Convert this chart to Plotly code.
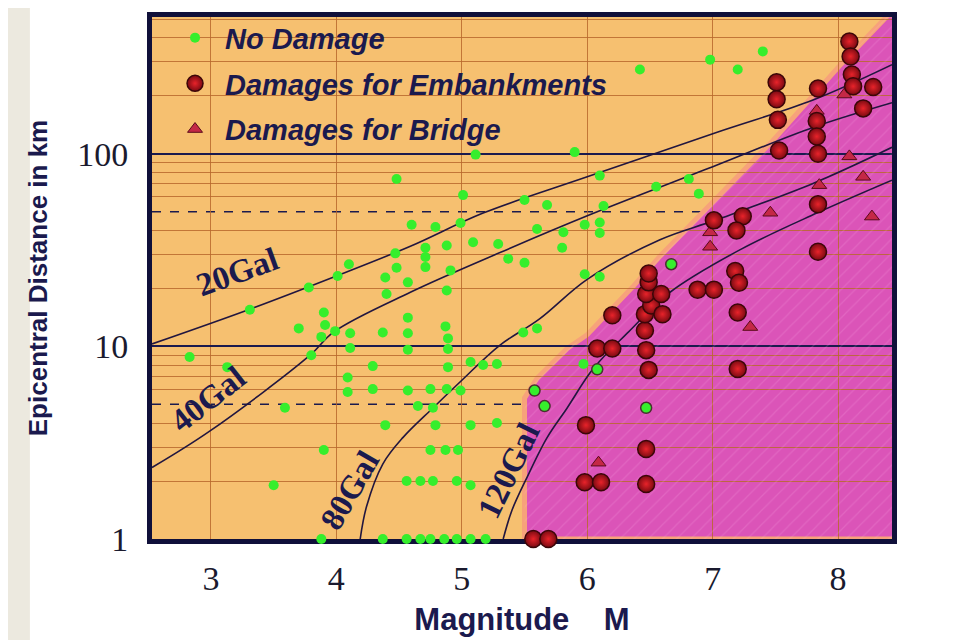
import plotly.graph_objects as go

# ---- values: magnitude M and epicentral distance (km) ----
no_damage_m = [2.83, 3.13, 3.31, 3.50, 3.59, 3.70, 3.78, 3.80, 3.88, 3.90, 3.91, 3.90,
               3.99, 4.01, 4.10, 4.11, 4.11, 4.09, 4.09, 4.29, 4.29, 4.37, 4.39, 4.40,
               4.39, 4.47, 4.48, 4.48, 4.56, 4.57, 4.57, 4.57, 4.57, 4.57, 4.60, 4.65,
               4.67, 4.71, 4.71, 4.71, 4.75, 4.75, 4.77, 4.77, 4.79, 4.79, 4.87, 4.87,
               4.88, 4.88, 4.88, 4.89, 4.89, 4.89, 4.91, 4.96, 4.97, 4.99, 4.99, 5.01,
               5.07, 5.07, 5.07, 5.09, 5.11, 5.17, 5.28, 5.28, 5.29, 5.37, 5.49, 5.50,
               5.50, 5.60, 5.60, 5.68, 5.80, 5.81, 5.90, 5.97, 5.98, 5.98, 6.10, 6.10,
               6.10, 6.10, 6.13, 6.42, 6.55, 6.81, 6.89, 6.98, 7.20, 7.40,
               3.88, 4.37, 4.56, 4.67, 4.75, 4.86, 4.96, 5.07, 5.19]
no_damage_d = [8.8, 7.8, 15.5, 1.9, 4.8, 12.4, 20.2, 9.0, 11.2, 15.0, 12.9, 2.9,
               12.0, 23.2, 26.7, 11.7, 9.8, 6.9, 5.8, 7.9, 6.0, 11.8, 22.8, 18.7,
               3.9, 30.4, 25.6, 74, 2.0, 21.5, 14.1, 11.7, 9.6, 5.9, 42.8, 4.9,
               2.0, 32.5, 29.1, 25.8, 2.9, 6.0, 4.8, 2.0, 41.7, 3.9, 12.7, 2.9,
               33.4, 19.5, 6.0, 11.0, 9.7, 7.8, 24.8, 2.0, 2.9, 43.7, 5.9, 61,
               8.3, 3.9, 1.9, 34.7, 99, 8.0, 8.1, 4.0, 34.0, 28.5, 11.8, 27.2,
               57.5, 40.7, 12.4, 54.2, 32.5, 39.1, 102, 8.1, 42.8, 23.7, 23.0, 77,
               44.0, 38.8, 53.6, 274, 67.4, 74, 62, 308, 274, 340,
               1, 1, 1, 1, 1, 1, 1, 1, 1]

# green points on the edge of the damage zone (drawn with a dark rim)
no_damage_edge_m = [5.58, 5.66, 6.08, 6.47, 6.67]
no_damage_edge_d = [5.9, 4.9, 7.6, 4.8, 26.7]

embank_m = [5.57, 5.69, 5.99, 5.98, 6.11, 6.47, 6.47, 6.08, 6.20, 6.20, 6.49, 6.47,
            6.46, 6.46, 6.51, 6.47, 6.49, 6.49, 6.59, 6.60, 6.88, 7.01, 7.18, 7.21,
            7.20, 7.20, 7.01, 7.24, 7.19, 7.84, 7.84, 7.51, 7.51, 7.52, 7.53, 7.84,
            7.83, 7.83, 7.84, 8.09, 8.10, 8.11, 8.12, 8.28, 8.20]
embank_d = [1, 1, 3.9, 1.97, 1.97, 1.93, 2.93, 9.75, 9.75, 14.5, 7.55, 9.56,
            12.1, 14.7, 16.3, 18.7, 21.5, 23.9, 18.7, 14.7, 19.7, 19.7, 24.6, 21.4,
            15.0, 7.64, 45.1, 47.4, 40.0, 54.7, 31.0, 235, 192, 150, 104, 218,
            148, 123, 100, 383, 320, 258, 224, 222, 172]

bridge_m = [6.09, 6.98, 6.98, 7.30, 7.46, 8.27, 7.85, 8.20, 8.09, 7.83, 8.05]
bridge_d = [2.49, 39.1, 32.9, 12.6, 49.4, 47.2, 68.7, 75.9, 96.9, 167, 203]

# equal peak-acceleration curves
gal20_m = [2.53, 3.31, 4.00, 4.59, 5.17, 6.00, 7.03, 7.80, 8.43]
gal20_d = [10.3, 15.6, 23.2, 33.1, 49.2, 75.9, 129, 190, 290]
gal40_m = [2.53, 2.99, 3.79, 3.98, 4.59, 5.30, 6.02, 7.03, 7.80, 8.43]
gal40_d = [2.35, 3.63, 9.0, 11.9, 19.1, 30.6, 48.2, 87.1, 137, 184]
gal80_m = [4.19, 4.24, 4.37, 4.53, 4.77, 4.99, 5.30, 5.62, 6.00, 6.58, 7.03, 7.80, 8.43]
gal80_d = [1.0, 1.47, 2.45, 3.36, 4.79, 6.57, 10.1, 13.9, 22.3, 35.8, 45.4, 70.1, 108]
gal120_m = [5.33, 5.40, 5.52, 5.68, 5.84, 6.05, 6.33, 6.66, 7.22, 7.83, 8.43]
gal120_d = [1.0, 1.41, 2.09, 3.36, 4.79, 7.69, 11.9, 19.1, 31.8, 49.2, 72.9]

# outline of the damage zone (magenta)
zone_m = [5.50, 5.50, 5.60, 5.84, 6.00, 6.37, 6.58, 7.48, 8.02, 8.40, 8.50, 8.50]
zone_d = [1.0, 5.39, 6.83, 9.75, 11.5, 20.6, 29.4, 117, 290, 525, 525, 1.0]

major_levels = [1, 10, 100]
minor_levels = [2, 3, 4, 6, 7, 8, 9, 20, 30, 40, 60, 70, 80, 90, 200, 300, 400, 500]
dashed_levels = [5, 50]
mag_ticks = [3, 4, 5, 6, 7, 8]

NAVY = "#1B1A4E"
BROWN = "rgba(185,105,45,0.85)"

fig = go.Figure()

zone_path = "M " + " L ".join(f"{m},{d}" for m, d in zip(zone_m, zone_d)) + " Z"
fig.add_shape(type="path", path=zone_path, xref="x", yref="y", layer="below",
              fillcolor="#DB54B8", line=dict(color="#F7A27A", width=5))

for lvl in dashed_levels:
    fig.add_shape(type="line", xref="paper", x0=0, x1=1, yref="y", y0=lvl, y1=lvl,
                  layer="between", line=dict(color=NAVY, width=1.5, dash="dash"))

# faint hatching of the damage zone
fig.add_trace(go.Scatter(x=zone_m, y=zone_d, mode="lines", fill="toself",
                         fillcolor="rgba(0,0,0,0)", line=dict(width=0),
                         fillpattern=dict(shape="/", fgcolor="rgba(255,185,235,0.35)",
                                          bgcolor="rgba(0,0,0,0)", size=10, solidity=0.12),
                         hoverinfo="skip", showlegend=False))

for cm, cd in [(gal20_m, gal20_d), (gal40_m, gal40_d), (gal80_m, gal80_d), (gal120_m, gal120_d)]:
    fig.add_trace(go.Scatter(x=cm, y=cd, mode="lines", line=dict(color="#22163F", width=1.6, shape="spline"),
                             hoverinfo="skip", showlegend=False))

fig.add_trace(go.Scatter(x=no_damage_m, y=no_damage_d, mode="markers", name="No Damage",
                         legendgroup="a", legendrank=1, cliponaxis=False,
                         marker=dict(size=10, color="#36EE2C")))
fig.add_trace(go.Scatter(x=no_damage_edge_m, y=no_damage_edge_d, mode="markers", name="No Damage",
                         legendgroup="a", showlegend=False, cliponaxis=False,
                         marker=dict(size=11, color="#36EE2C", line=dict(color="#4A3030", width=1.5))))
fig.add_trace(go.Scatter(x=bridge_m, y=bridge_d, mode="markers", name="Damages for Bridge",
                         legendgroup="c", legendrank=3, cliponaxis=False,
                         marker=dict(symbol="triangle-up", size=13, color="#C42846",
                                     line=dict(color="#5A0A1A", width=1))))
fig.add_trace(go.Scatter(x=embank_m, y=embank_d, mode="markers", name="Damages for Embankments",
                         legendgroup="b", legendrank=2, cliponaxis=False,
                         marker=dict(size=17, color="#7A0A12",
                                     gradient=dict(type="radial", color="#E8232A"),
                                     line=dict(color="#3B0608", width=1.5))))

gal_font = dict(family="Liberation Serif", size=33, color=NAVY, weight="bold")
for txt, x, y, ang in [("20Gal", 3.21, 1.388, -20), ("40Gal", 2.98, 0.725, -38),
                       ("80Gal", 4.11, 0.252, -60), ("120Gal", 5.37, 0.355, -64)]:
    fig.add_annotation(text=txt, x=x, y=y, xref="x", yref="y", showarrow=False,
                       textangle=ang, font=gal_font)

# beige strip at the far left of the slide
fig.add_shape(type="rect", xref="paper", yref="paper", x0=-0.21, x1=-0.165, y0=-0.3, y1=1.1,
              fillcolor="#ECE9DF", line=dict(width=0), layer="below")

fig.update_xaxes(range=[2.53, 8.43], tickvals=mag_ticks, ticks="", ticklabelstandoff=5,
                 tickfont=dict(family="Liberation Serif", size=34, color="#1A1A2E"),
                 showgrid=True, gridcolor=BROWN, gridwidth=1, zeroline=False,
                 showline=True, linewidth=5, linecolor="#10103A", mirror=True, layer="below traces",
                 title=dict(text="Magnitude\u00a0\u00a0\u00a0\u00a0M", standoff=14,
                            font=dict(family="Liberation Sans", size=31, color=NAVY, weight="bold")))
fig.update_yaxes(type="log", range=[0, 2.71], tickvals=major_levels, ticktext=[str(v) for v in major_levels],
                 ticks="", ticklabelstandoff=12,
                 tickfont=dict(family="Liberation Serif", size=34, color="#1A1A2E"),
                 showgrid=True, gridcolor=NAVY, gridwidth=2,
                 minor=dict(tickvals=minor_levels, showgrid=True, gridcolor=BROWN, gridwidth=1, ticks=""),
                 showline=True, linewidth=5, linecolor="#10103A", mirror=True, layer="below traces",
                 title=dict(text="Epicentral Distance in km", standoff=24,
                            font=dict(family="Liberation Sans", size=26, color=NAVY, weight="bold")))

fig.update_layout(
    width=945, height=632,
    margin=dict(l=144, r=61, t=4, b=101),
    paper_bgcolor="white", plot_bgcolor="#F6C070",
    showlegend=True,
    legend=dict(x=0.0176, y=1.009, xanchor="left", yanchor="top", bgcolor="rgba(0,0,0,0)",
                tracegroupgap=5, traceorder="grouped", itemwidth=50,
                font=dict(family="Liberation Sans", size=29, color=NAVY, weight="bold", style="italic")),
)

fig.write_html("out.html")
